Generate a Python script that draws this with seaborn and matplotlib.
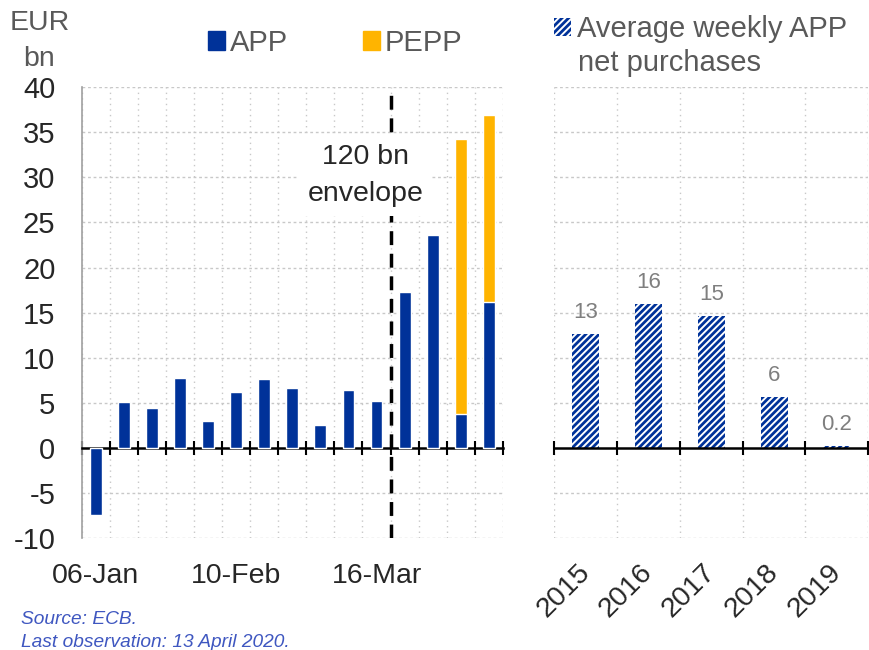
import numpy as np
import pandas as pd
import matplotlib
matplotlib.use("Agg")
import matplotlib.pyplot as plt
import matplotlib.patches as mpatches
import seaborn as sns

# weekly data, 06-Jan to 13-Apr 2020
weeks = ["06-Jan", "13-Jan", "20-Jan", "27-Jan", "03-Feb", "10-Feb", "17-Feb",
         "24-Feb", "02-Mar", "09-Mar", "16-Mar", "23-Mar", "30-Mar", "06-Apr", "13-Apr"]
app = [-7.4, 5.1, 4.4, 7.8, 3.0, 6.2, 7.7, 6.7, 2.5, 6.4, 5.2, 17.3, 23.6, 3.8, 16.2]
pepp = [0, 0, 0, 0, 0, 0, 0, 0, 0, 0, 0, 0, 0, 30.4, 20.7]
shown_weeks = ["06-Jan", "10-Feb", "16-Mar"]

# yearly averages
years = ["2015", "2016", "2017", "2018", "2019"]
avg_app = [12.6, 16.0, 14.6, 5.7, 0.2]
avg_labels = ["13", "16", "15", "6", "0.2"]

BLUE = "#003299"
YELLOW = "#FFB400"
GREY_TXT = "#595959"
GRID = "#c8c8c8"

sns.set_style("white")
plt.rcParams["font.family"] = ["Liberation Sans", "DejaVu Sans"]
plt.rcParams["axes.unicode_minus"] = False
plt.rcParams["hatch.color"] = BLUE
plt.rcParams["hatch.linewidth"] = 2.0

fig = plt.figure(figsize=(8.7, 6.5), dpi=100)
ax1 = fig.add_axes([0.094, 0.172, 0.484, 0.694])
ax2 = fig.add_axes([0.637, 0.172, 0.361, 0.694])

ymin, ymax = -10, 40


def style_grid(ax, n):
    ax.set_xlim(-0.5, n - 0.5)
    ax.set_ylim(ymin, ymax)
    for y in range(ymin, ymax + 1, 5):
        if y != 0:
            ax.axhline(y, color=GRID, lw=1, ls=(0, (2, 2)), zorder=0)
    for b in np.arange(n + 1) - 0.5:
        ax.axvline(b, color=GRID, lw=1, ls=(0, (1, 3)), zorder=0)
    for s in ["top", "right", "left"]:
        ax.spines[s].set_visible(False)
    ax.spines["bottom"].set_position(("data", 0))
    ax.spines["bottom"].set_color("black")
    ax.spines["bottom"].set_linewidth(1.8)
    ax.set_xticks(np.arange(n + 1) - 0.5)
    ax.tick_params(axis="x", bottom=True, direction="inout", length=10,
                   width=1.5, color="black", labelbottom=False)
    ax.set_xlabel("")
    ax.set_ylabel("")


# left panel: weekly purchases (stacked)
df = pd.DataFrame({"week": weeks, "APP": app, "PEPP": pepp})
df["total"] = df["APP"] + df["PEPP"]
sns.barplot(data=df, x="week", y="total", color=YELLOW, saturation=1,
            width=0.42, ax=ax1, zorder=2)
sns.barplot(data=df, x="week", y="APP", color=BLUE, saturation=1,
            width=0.42, ax=ax1, zorder=3)
style_grid(ax1, len(weeks))
ax1.spines["left"].set_visible(True)
ax1.spines["left"].set_color("#a0a0a0")
ax1.spines["left"].set_linewidth(1.2)
ax1.set_yticks(range(ymin, ymax + 1, 5))
ax1.tick_params(axis="y", left=False, length=0, labelsize=21, pad=19)

xt = ax1.get_xaxis_transform()
for w in shown_weeks:
    ax1.text(weeks.index(w), -0.055, w, transform=xt, ha="center", va="top",
             fontsize=20.5)

split = weeks.index("16-Mar") + 0.5
ax1.axvline(split, color="black", lw=2.5, ls=(0, (4, 2.5)), zorder=4)
ax1.text(split - 0.9, 30.2, "120 bn\nenvelope", ha="center", va="center",
         fontsize=20.5, linespacing=1.55, zorder=5,
         bbox=dict(boxstyle="square,pad=0.3", fc="white", ec="none"))

# right panel: yearly averages
ydf = pd.DataFrame({"year": years, "avg": avg_app})
sns.barplot(data=ydf, x="year", y="avg", color="white", saturation=1,
            width=0.43, ax=ax2, zorder=2, edgecolor=BLUE, linewidth=0,
            hatch="/////")
style_grid(ax2, len(years))
ax2.set_yticks([])
for i, lab in enumerate(avg_labels):
    ax2.text(i, avg_app[i] + 1.2, lab, ha="center", va="bottom",
             fontsize=16, color="#7f7f7f")
xt2 = ax2.get_xaxis_transform()
for i, yr in enumerate(years):
    ax2.text(i - 0.14, -0.046, yr, transform=xt2, ha="right", va="top",
             rotation=45, rotation_mode="anchor", fontsize=20.5)

# legends and labels
fig.text(0.011, 0.985, "EUR", fontsize=20.5, color=GREY_TXT, va="top")
fig.text(0.027, 0.93, "bn", fontsize=20.5, color=GREY_TXT, va="top")

h_app = mpatches.Patch(color=BLUE, label="APP")
h_pepp = mpatches.Patch(color=YELLOW, label="PEPP")
fig.legend(handles=[h_app, h_pepp], loc="center left",
           bbox_to_anchor=(0.222, 0.934), ncol=2, frameon=False,
           fontsize=21, handlelength=0.6, handleheight=0.6, handletextpad=0.15,
           columnspacing=2.58, labelcolor=GREY_TXT, borderpad=0)

h_avg = mpatches.Patch(facecolor="white", edgecolor=BLUE, hatch="/////",
                       linewidth=0, label="Average weekly APP")
fig.legend(handles=[h_avg], loc="upper left", bbox_to_anchor=(0.62, 0.999),
           frameon=False, fontsize=21, handlelength=0.6, handleheight=0.6,
           handletextpad=0.2, labelcolor=GREY_TXT, borderpad=0)
fig.text(0.664, 0.903, "net purchases", fontsize=21, color=GREY_TXT,
         va="center")

fig.text(0.024, 0.04, "Source: ECB.", fontsize=13.8, style="italic",
         color="#3f57c0")
fig.text(0.024, 0.005, "Last observation: 13 April 2020.", fontsize=13.8,
         style="italic", color="#3f57c0")

fig.savefig("out.png", dpi=100)
